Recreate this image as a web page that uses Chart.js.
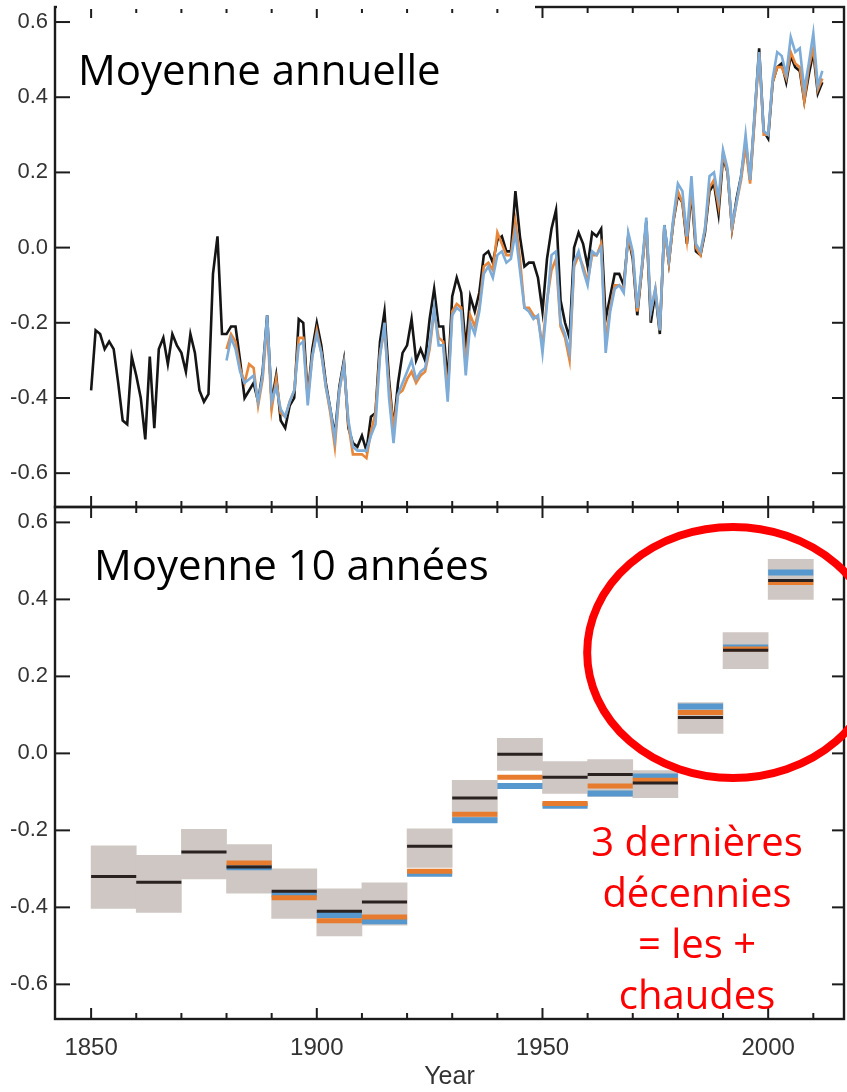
<!DOCTYPE html>
<html><head><meta charset="utf-8">
<script src="https://cdn.jsdelivr.net/npm/chart.js@4.4.1/dist/chart.umd.min.js"></script>
<style>
html,body{margin:0;padding:0;background:#fff;}
#wrap{position:relative;width:847px;height:1092px;overflow:hidden;background:#fff;}
canvas{position:absolute;left:0;}
#cTop{top:0;width:847px;height:520px;}
#cBot{top:495px;width:847px;height:597px;}
.lbl{position:absolute;font-family:'Open Sans','Noto Sans',sans-serif;color:#000;white-space:nowrap;}
.red{position:absolute;left:547px;top:815px;width:300px;text-align:center;font-family:'Open Sans','Noto Sans',sans-serif;font-size:40px;line-height:51px;color:#ff0000;}
</style></head><body>
<div id="wrap">
<canvas id="cTop" width="847" height="520"></canvas>
<canvas id="cBot" width="847" height="597"></canvas>
<div style="position:absolute;left:57px;top:0;width:478px;height:9px;background:#fff;"></div>
<div class="lbl" style="left:78px;top:48px;font-size:42px;line-height:42px;">Moyenne annuelle</div>
<div class="lbl" style="left:94px;top:543px;font-size:42px;line-height:42px;">Moyenne 10 années</div>
<div class="red">3 dernières<br>décennies<br>= les +<br>chaudes</div>
</div>
<script>
// ---- data ----
const firstYear = 1850;
const hadcrutAnnual = [
 -0.38,-0.22,-0.23,-0.27,-0.25,-0.27,-0.36,-0.46,-0.47,-0.29,
 -0.34,-0.40,-0.51,-0.29,-0.48,-0.27,-0.24,-0.31,-0.23,-0.26,
 -0.28,-0.33,-0.23,-0.28,-0.38,-0.41,-0.39,-0.07,0.03,-0.23,
 -0.23,-0.21,-0.21,-0.30,-0.40,-0.38,-0.36,-0.41,-0.33,-0.18,
 -0.41,-0.34,-0.46,-0.48,-0.42,-0.40,-0.19,-0.20,-0.40,-0.27,
 -0.20,-0.26,-0.36,-0.43,-0.50,-0.37,-0.30,-0.48,-0.52,-0.53,
 -0.50,-0.54,-0.45,-0.44,-0.25,-0.17,-0.35,-0.48,-0.36,-0.28,
 -0.26,-0.19,-0.30,-0.27,-0.30,-0.19,-0.11,-0.21,-0.21,-0.36,
 -0.13,-0.08,-0.12,-0.27,-0.13,-0.17,-0.12,-0.02,-0.01,-0.04,
 0.02,0.03,-0.01,-0.01,0.15,0.03,-0.05,-0.04,-0.04,-0.08,
 -0.17,-0.03,0.05,0.10,-0.14,-0.20,-0.24,0.00,0.04,0.01,
 -0.05,0.04,0.03,0.05,-0.19,-0.13,-0.07,-0.07,-0.10,0.03,
 -0.03,-0.18,-0.06,0.07,-0.20,-0.12,-0.23,0.06,-0.04,0.07,
 0.14,0.12,0.01,0.15,-0.01,-0.02,0.04,0.15,0.17,0.09,
 0.24,0.20,0.05,0.13,0.19,0.28,0.18,0.35,0.53,0.31,
 0.29,0.44,0.48,0.49,0.44,0.51,0.48,0.47,0.39,0.46,
 0.52,0.41,0.44];
const noaaFirstYear = 1880;
const noaaAnnual = [
 -0.27,-0.23,-0.25,-0.32,-0.36,-0.31,-0.32,-0.42,-0.35,-0.20,
 -0.43,-0.35,-0.44,-0.45,-0.41,-0.38,-0.24,-0.24,-0.40,-0.29,
 -0.22,-0.28,-0.37,-0.44,-0.53,-0.38,-0.31,-0.47,-0.55,-0.55,
 -0.55,-0.56,-0.49,-0.44,-0.28,-0.22,-0.37,-0.48,-0.39,-0.38,
 -0.35,-0.33,-0.36,-0.34,-0.33,-0.27,-0.17,-0.24,-0.25,-0.39,
 -0.17,-0.15,-0.16,-0.31,-0.18,-0.21,-0.16,-0.05,-0.04,-0.06,
 0.04,0.01,-0.02,-0.02,0.07,-0.03,-0.16,-0.16,-0.18,-0.19,
 -0.26,-0.14,-0.06,-0.03,-0.21,-0.24,-0.30,-0.05,-0.02,-0.05,
 -0.09,-0.02,-0.02,0.01,-0.25,-0.16,-0.10,-0.10,-0.11,0.03,
 -0.02,-0.17,-0.06,0.06,-0.17,-0.11,-0.22,0.05,-0.04,0.07,
 0.15,0.12,0.02,0.16,0.00,-0.02,0.05,0.16,0.18,0.11,
 0.25,0.20,0.05,0.12,0.18,0.27,0.17,0.34,0.52,0.30,
 0.30,0.44,0.48,0.48,0.45,0.52,0.49,0.48,0.39,0.48,
 0.53,0.42,0.45];
const gissAnnual = [
 -0.30,-0.24,-0.27,-0.33,-0.36,-0.35,-0.34,-0.41,-0.34,-0.18,
 -0.41,-0.37,-0.43,-0.45,-0.41,-0.38,-0.26,-0.25,-0.42,-0.29,
 -0.23,-0.28,-0.37,-0.43,-0.51,-0.38,-0.31,-0.46,-0.53,-0.54,
 -0.54,-0.54,-0.50,-0.47,-0.29,-0.20,-0.40,-0.52,-0.39,-0.36,
 -0.33,-0.30,-0.35,-0.33,-0.32,-0.26,-0.16,-0.26,-0.26,-0.41,
 -0.18,-0.16,-0.17,-0.34,-0.20,-0.23,-0.17,-0.07,-0.05,-0.08,
 -0.02,-0.01,-0.04,-0.03,0.04,-0.06,-0.16,-0.17,-0.19,-0.18,
 -0.28,-0.15,-0.02,-0.01,-0.20,-0.23,-0.28,-0.04,-0.01,-0.06,
 -0.10,-0.01,-0.02,0.00,-0.28,-0.17,-0.11,-0.10,-0.12,0.04,
 -0.01,-0.16,-0.05,0.08,-0.17,-0.11,-0.22,0.06,-0.03,0.08,
 0.17,0.15,0.03,0.19,0.01,-0.01,0.05,0.19,0.20,0.13,
 0.26,0.21,0.06,0.12,0.19,0.30,0.18,0.36,0.52,0.31,
 0.30,0.45,0.52,0.51,0.46,0.56,0.52,0.53,0.42,0.49,
 0.57,0.43,0.47];

const decadeStarts = [1850,1860,1870,1880,1890,1900,1910,1920,1930,1940,1950,1960,1970,1980,1990,2000];
const hadcrutDecadal = [-0.32,-0.335,-0.256,-0.295,-0.358,-0.41,-0.386,-0.241,-0.116,-0.002,-0.062,-0.055,-0.077,0.093,0.268,0.449];
const hadcrutDecLow  = [-0.403,-0.413,-0.326,-0.363,-0.429,-0.474,-0.446,-0.296,-0.18,-0.044,-0.104,-0.112,-0.115,0.052,0.22,0.40];
const hadcrutDecHigh = [-0.24,-0.265,-0.197,-0.237,-0.30,-0.352,-0.336,-0.196,-0.07,0.039,-0.021,-0.016,-0.045,0.132,0.314,0.504];
const noaaDecadal = [null,null,null,-0.285,-0.375,-0.435,-0.425,-0.306,-0.158,-0.062,-0.13,-0.085,-0.07,0.106,0.271,0.444];
const gissDecadal = [null,null,null,-0.296,-0.366,-0.42,-0.436,-0.313,-0.174,-0.085,-0.136,-0.104,-0.06,0.122,0.275,0.47];

const yTickValues = [-0.6,-0.4,-0.2,0.0,0.2,0.4,0.6];
const xLabelYears = [1850,1900,1950,2000];
const xTickMarkYears = [1850,1860,1870,1880,1890,1900,1910,1920,1930,1940,1950,1960,1970,1980,1990,2000,2010];
const highlight = {year:1992.2, value:0.262, halfYears:32.3, halfValue:0.326};

// ---- axis ranges ----
const X_MIN = 1842, X_MAX = 2016.8, Y_MIN = -0.69, Y_MAX = 0.64;
const FONT = "'Liberation Sans', Arial, Helvetica, sans-serif";

function series(start, vals){ return vals.map((v,i)=>({x:start+i, y:v})); }
function segments(vals){
  const out=[];
  decadeStarts.forEach((d,i)=>{ if(vals[i]==null) return;
    out.push({x:d,y:vals[i]},{x:d+10,y:vals[i]},{x:d+10,y:null}); });
  return out;
}
function noPad(s){ s.paddingTop=0; s.paddingBottom=0; s.paddingLeft=0; s.paddingRight=0; }

const frameTicks = {
  id:'frameTicks',
  afterDatasetsDraw(chart){
    const {ctx, chartArea:a} = chart; const x=chart.scales.x, y=chart.scales.y;
    ctx.save();
    ctx.strokeStyle='#1c1c1c'; ctx.lineWidth=2.4;
    ctx.strokeRect(a.left,a.top,a.right-a.left,a.bottom-a.top);
    ctx.lineWidth=2;
    const ln=(x1,y1,x2,y2)=>{ctx.beginPath();ctx.moveTo(x1,y1);ctx.lineTo(x2,y2);ctx.stroke();};
    xTickMarkYears.forEach(v=>{ const px=x.getPixelForValue(v); const L=(v%50===0)?11:6;
      ln(px,a.bottom,px,a.bottom-L); ln(px,a.top,px,a.top+L); });
    yTickValues.forEach(v=>{ const py=y.getPixelForValue(v);
      ln(a.left,py,a.left+15,py); ln(a.right,py,a.right-12,py); });
    ctx.restore();
  }
};
const ellipsePlugin = {
  id:'ellipse',
  afterDraw(chart){
    const {ctx}=chart; const x=chart.scales.x, y=chart.scales.y;
    const cx=x.getPixelForValue(highlight.year), cy=y.getPixelForValue(highlight.value);
    const rx=Math.abs(x.getPixelForValue(highlight.year+highlight.halfYears)-cx);
    const ry=Math.abs(y.getPixelForValue(highlight.value+highlight.halfValue)-cy);
    ctx.save(); ctx.beginPath(); ctx.ellipse(cx,cy,rx,ry,0,0,Math.PI*2);
    ctx.strokeStyle='#ff0000'; ctx.lineWidth=8; ctx.stroke(); ctx.restore();
  }
};

function yScale(){
  return {min:Y_MIN,max:Y_MAX,
    afterFit:s=>{s.width=55; noPad(s);},
    afterBuildTicks:s=>{s.ticks=yTickValues.map(v=>({value:v}));},
    ticks:{callback:v=>Number(v).toFixed(1),padding:7,color:'#333',font:{family:FONT,size:22}},
    grid:{display:false,drawTicks:false},border:{display:false}};
}

new Chart(document.getElementById('cTop'),{
  type:'line',
  data:{datasets:[
    {label:'GISS',data:series(noaaFirstYear,gissAnnual),borderColor:'rgb(125,172,216)',order:0},
    {label:'NOAA',data:series(noaaFirstYear,noaaAnnual),borderColor:'rgb(232,134,58)',order:1},
    {label:'HadCRUT4',data:series(firstYear,hadcrutAnnual),borderColor:'#151515',order:2}
  ]},
  options:{responsive:false,animation:false,
    layout:{padding:{top:7,bottom:13,left:0,right:3}},
    elements:{point:{radius:0},line:{borderWidth:2.6,tension:0}},
    plugins:{legend:{display:false},tooltip:{enabled:false}},
    scales:{x:{type:'linear',min:X_MIN,max:X_MAX,display:false},y:yScale()}
  },
  plugins:[frameTicks]
});

new Chart(document.getElementById('cBot'),{
  type:'bar',
  data:{datasets:[
    {type:'line',label:'HadCRUT4 (10 ans)',data:segments(hadcrutDecadal),borderColor:'#2a2220',borderWidth:3,order:0},
    {type:'line',label:'NOAA (10 ans)',data:segments(noaaDecadal),borderColor:'rgb(231,124,46)',borderWidth:5,order:1},
    {type:'line',label:'GISS (10 ans)',data:segments(gissDecadal),borderColor:'rgb(86,152,206)',borderWidth:6,order:2},
    {type:'bar',label:'incertitude',data:decadeStarts.map((d,i)=>({x:d+5,y:[hadcrutDecLow[i],hadcrutDecHigh[i]]})),
      backgroundColor:'rgb(206,199,195)',borderWidth:0,barPercentage:1,categoryPercentage:1,order:3}
  ]},
  options:{responsive:false,animation:false,
    layout:{padding:{top:12,bottom:0,left:0,right:3}},
    elements:{point:{radius:0},line:{tension:0,borderCapStyle:'butt'}},
    plugins:{legend:{display:false},tooltip:{enabled:false}},
    scales:{
      x:{type:'linear',min:X_MIN,max:X_MAX,offset:false,
        afterFit:s=>{s.height=73; noPad(s);},
        afterBuildTicks:s=>{s.ticks=xLabelYears.map(v=>({value:v}));},
        ticks:{callback:v=>String(v),padding:15,color:'#333',font:{family:FONT,size:24},maxRotation:0},
        grid:{display:false,drawTicks:false},border:{display:false},
        title:{display:true,text:'Year',color:'#333',font:{family:FONT,size:25},padding:{top:0,bottom:0}}},
      y:yScale()
    }
  },
  plugins:[frameTicks,ellipsePlugin]
});
</script>
</body></html>
